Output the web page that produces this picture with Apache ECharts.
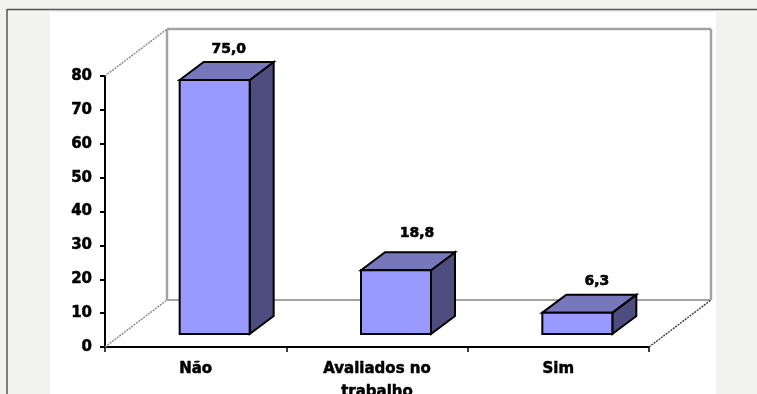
<!DOCTYPE html>
<html>
<head>
<meta charset="utf-8">
<style>
  html, body { margin: 0; padding: 0; background: #f2f2f0; overflow: hidden; }
  #chart { width: 757px; height: 394px; }
</style>
<script src="https://cdn.jsdelivr.net/npm/echarts@6/dist/echarts.min.js"></script>
</head>
<body>
<div id="chart"></div>
<script>
const categories = ['Não', 'Avaliados no\ntrabalho', 'Sim'];
const percentages = [75.0, 18.8, 6.3];
const yTicks = { min: 0, max: 80, interval: 10 };

// Oblique projection used for the pseudo-3D box
const WALL = { dx: 62, dy: 47 };
const FLOOR = { dx: 19, dy: 13 };
const BOX = { dx: 24, dy: 18, width: 70 };
const LABEL_NUDGE = [[14, 0], [21, -6], [19.5, 0]];
const FONT = 'bold 14px "DejaVu Sans"';
const INK = '#000000';

function poly(points, fill, lineWidth) {
  return {
    type: 'polygon',
    shape: { points },
    style: { fill, stroke: INK, lineWidth: lineWidth || 1.5, lineJoin: 'miter' }
  };
}

function renderWalls(params) {
  const c = params.coordSys;
  const left = c.x, right = c.x + c.width, top = c.y, bottom = c.y + c.height;
  const solid = { stroke: '#a3a3a3', lineWidth: 2.5, fill: null };
  const floorLine = { stroke: '#a3a3a3', lineWidth: 2, fill: null };
  const dotted = { stroke: '#8c8c8c', lineWidth: 1.5, lineDash: [2, 1], fill: null };
  const line = (x1, y1, x2, y2, style) => ({ type: 'line', shape: { x1, y1, x2, y2 }, style });
  return {
    type: 'group',
    children: [
      line(left + WALL.dx, top - WALL.dy, right + WALL.dx, top - WALL.dy, solid),
      line(left + WALL.dx, top - WALL.dy, left + WALL.dx, bottom - WALL.dy, solid),
      line(right + WALL.dx, top - WALL.dy, right + WALL.dx, bottom - WALL.dy, solid),
      line(left + WALL.dx, bottom - WALL.dy, right + WALL.dx, bottom - WALL.dy, floorLine),
      line(left, top, left + WALL.dx, top - WALL.dy, dotted),
      line(left, bottom, left + WALL.dx, bottom - WALL.dy, dotted),
      line(right, bottom, right + WALL.dx, bottom - WALL.dy, { stroke: '#444444', lineWidth: 1.5, lineDash: [2, 1], fill: null })
    ]
  };
}

function renderBox(params, api) {
  const i = api.value(0);
  const value = api.value(1);
  const head = api.coord([i, value]);
  const foot = api.coord([i, 0]);
  const x0 = head[0] + FLOOR.dx - BOX.width / 2;
  const x1 = x0 + BOX.width;
  const top = head[1] - FLOOR.dy;
  const bot = foot[1] - FLOOR.dy;
  const nudge = LABEL_NUDGE[i];
  return {
    type: 'group',
    children: [
      poly([[x1, bot], [x1 + BOX.dx, bot - BOX.dy], [x1 + BOX.dx, top - BOX.dy], [x1, top]], '#4d4d80', 2),
      poly([[x0, top], [x0 + BOX.dx, top - BOX.dy], [x1 + BOX.dx, top - BOX.dy], [x1, top]], '#7777bb', 2),
      poly([[x0, bot], [x1, bot], [x1, top], [x0, top]], '#9999ff', 2),
      {
        type: 'text',
        style: {
          x: (x0 + x1) / 2 + nudge[0],
          y: top - 31 + nudge[1],
          text: value.toFixed(1).replace('.', ','),
          font: FONT,
          fill: INK,
          stroke: INK,
          lineWidth: 0.6,
          align: 'center',
          verticalAlign: 'middle'
        }
      }
    ]
  };
}

const chart = echarts.init(document.getElementById('chart'), null, { renderer: 'canvas' });
chart.setOption({
  animation: false,
  backgroundColor: '#f2f2f0',
  graphic: [
    { type: 'rect', z: -10, shape: { x: 50, y: 12, width: 666, height: 382 }, style: { fill: '#ffffff' } },
    { type: 'line', z: -9, shape: { x1: 7, y1: 9.5, x2: 757, y2: 9.5 }, style: { stroke: '#555555', lineWidth: 1.5 } },
    { type: 'line', z: -9, shape: { x1: 7, y1: 9, x2: 7, y2: 394 }, style: { stroke: '#555555', lineWidth: 1.5 } }
  ],
  grid: { left: 105, right: 108, top: 76, bottom: 47, outerBoundsMode: 'none', containLabel: false },
  xAxis: {
    type: 'category',
    data: categories,
    axisLine: { lineStyle: { color: INK, width: 2 } },
    axisTick: { show: true, alignWithLabel: false, length: 5, lineStyle: { color: INK, width: 1.5 } },
    axisLabel: {
      color: INK, fontFamily: 'DejaVu Sans', fontWeight: 'bold', fontSize: 15,
      textBorderColor: INK, textBorderWidth: 0.5,
      lineHeight: 23, margin: 11, interval: 0
    },
    splitLine: { show: false }
  },
  yAxis: {
    type: 'value',
    min: yTicks.min,
    max: yTicks.max,
    interval: yTicks.interval,
    axisLine: { show: true, lineStyle: { color: INK, width: 2 } },
    axisTick: { show: true, length: 5, lineStyle: { color: INK, width: 2 } },
    axisLabel: {
      color: INK, fontFamily: 'DejaVu Sans', fontWeight: 'bold', fontSize: 15,
      textBorderColor: INK, textBorderWidth: 0.5, margin: 13
    },
    splitLine: { show: false }
  },
  series: [
    { type: 'custom', silent: true, z: 1, clip: false, data: [[0, 0]], renderItem: renderWalls },
    {
      type: 'custom',
      silent: true,
      z: 3,
      clip: false,
      encode: { x: 0, y: 1 },
      data: percentages.map((v, i) => [i, v]),
      renderItem: renderBox
    }
  ]
});
</script>
</body>
</html>
